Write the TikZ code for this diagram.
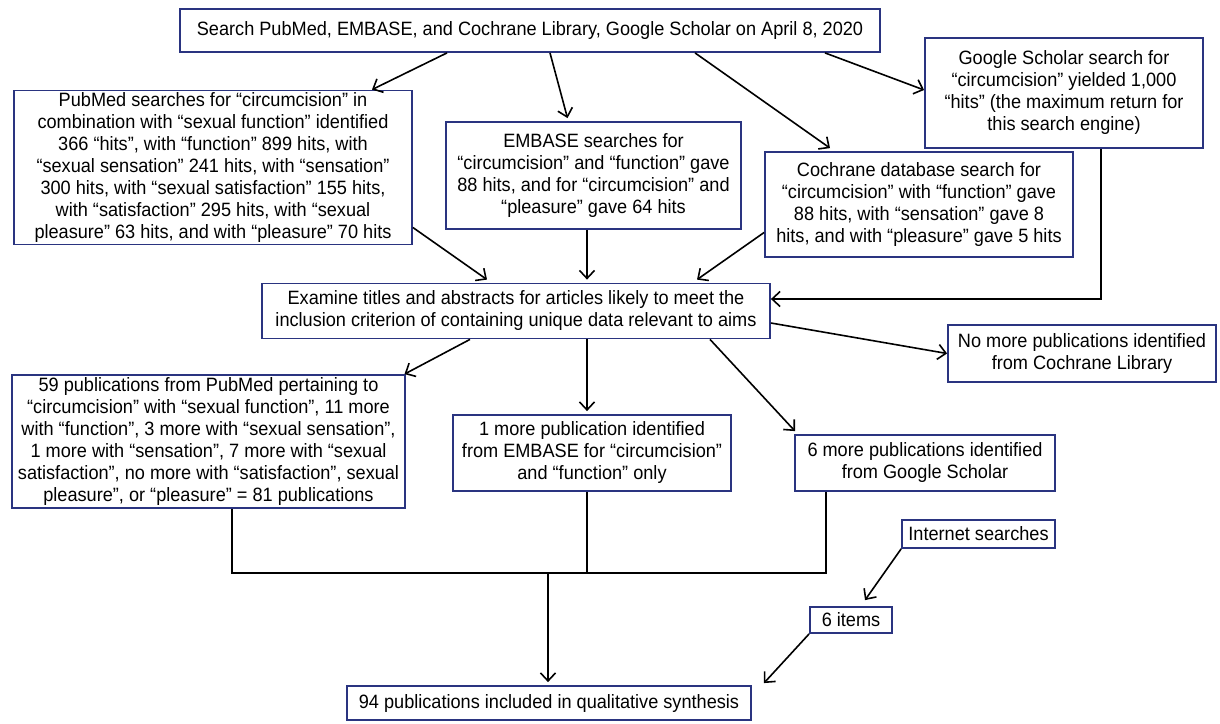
\documentclass[tikz,border=0pt]{standalone}
\usepackage{fontspec}
\setmainfont[FakeStretch=0.94]{Liberation Sans}
\usetikzlibrary{arrows.meta}
\definecolor{boxblue}{RGB}{42,52,128}
\begin{document}
\begin{tikzpicture}[x=1pt,y=-1pt,
  box/.style={draw=boxblue,line width=1.8pt,align=center,inner sep=2pt,
    font=\fontsize{19.3}{22}\selectfont},
  arr/.style={line width=1.6pt,-{Straight Barb[length=8pt,width=15pt,line width=1.6pt]}},
  ln/.style={line width=1.6pt}]
\useasboundingbox[fill=white] (0,0) rectangle (1220,723);
\node[box,minimum width=700pt,minimum height=43pt] (top) at (530,30.5)
  {Search PubMed, EMBASE, and Cochrane Library, Google Scholar on April 8, 2020};
\node[box,minimum width=398pt,minimum height=151pt] (pub) at (213,167.5)
  {PubMed searches for “circumcision” in\\combination with “sexual function” identified\\366 “hits”, with “function” 899 hits, with\\“sexual sensation” 241 hits, with “sensation”\\300 hits, with “sexual satisfaction” 155 hits,\\with “satisfaction” 295 hits, with “sexual\\pleasure” 63 hits, and with “pleasure” 70 hits};
\node[box,minimum width=295pt,minimum height=107pt] (emb) at (593.5,175.5)
  {EMBASE searches for\\“circumcision” and “function” gave\\88 hits, and for “circumcision” and\\“pleasure” gave 64 hits};
\node[box,minimum width=278pt,minimum height=110pt] (goo) at (1064,93)
  {Google Scholar search for\\“circumcision” yielded 1,000\\“hits” (the maximum return for\\this search engine)};
\node[box,minimum width=308pt,minimum height=105pt] (coc) at (919,204.5)
  {Cochrane database search for\\“circumcision” with “function” gave\\88 hits, with “sensation” gave 8\\hits, and with “pleasure” gave 5 hits};
\node[box,minimum width=508pt,minimum height=55pt] (exa) at (516,311)
  {Examine titles and abstracts for articles likely to meet the\\inclusion criterion of containing unique data relevant to aims};
\node[box,minimum width=268pt,minimum height=57pt] (nom) at (1082,353.5)
  {No more publications identified\\from Cochrane Library};
\node[box,minimum width=393pt,minimum height=133pt] (p59) at (208.5,441.5)
  {59 publications from PubMed pertaining to\\“circumcision” with “sexual function”, 11 more\\with “function”, 3 more with “sexual sensation”,\\1 more with “sensation”, 7 more with “sexual\\satisfaction”, no more with “satisfaction”, sexual\\pleasure”, or “pleasure” = 81 publications};
\node[box,minimum width=278pt,minimum height=76pt] (one) at (592,453)
  {1 more publication identified\\from EMBASE for “circumcision”\\and “function” only};
\node[box,minimum width=260pt,minimum height=56pt] (six) at (925,463)
  {6 more publications identified\\from Google Scholar};
\node[box,minimum width=153pt,minimum height=28pt] (int) at (978.5,534)
  {Internet searches};
\node[box,minimum width=82pt,minimum height=26pt] (itm) at (851,620)
  {6 items};
\node[box,minimum width=404pt,minimum height=34pt] (fin) at (549,703)
  {94 publications included in qualitative synthesis};
% arrows from top
\draw[arr] ([xshift=-83pt]top.south) -- ([xshift=159pt]pub.north);
\draw[arr] ([xshift=20pt]top.south) -- ([xshift=-26pt,yshift=3pt]emb.north);
\draw[arr] ([xshift=165pt]top.south) -- ([xshift=-89pt,yshift=3pt]coc.north);
\draw[arr] ([xshift=295pt]top.south) -- ([yshift=3pt]goo.west);
% into examine
\draw[arr] ([yshift=-60pt]pub.east) -- ([xshift=-29pt,yshift=3pt]exa.north);
\draw[arr] ([xshift=-6.5pt]emb.south) -- ([xshift=71pt,yshift=3pt]exa.north);
\draw[arr] ([yshift=-28pt]coc.west) -- ([xshift=181pt,yshift=3pt]exa.north);
\draw[arr] ([xshift=37pt]goo.south) |- ([yshift=12pt]exa.east);
% out of examine
\draw[arr] ([xshift=-46pt]exa.south) -- ([xshift=196pt]p59.north);
\draw[arr] ([xshift=71pt]exa.south) -- ([xshift=-5pt,yshift=3pt]one.north);
\draw[arr] ([xshift=194pt]exa.south) -- ([xshift=-130pt,yshift=3pt]six.north);
\draw[arr] ([yshift=-12pt]exa.east) -- (nom.west);
% merge
\coordinate (jl) at (232,573);
\coordinate (jr) at (826,573);
\coordinate (jm) at (548,573);
\draw[ln] ([xshift=23.5pt]p59.south) -- (jl) -- (jr) -- ([xshift=-99pt]six.south);
\draw[ln] ([xshift=-5pt]one.south) -- ([xshift=-5pt]one.south |- jl);
\draw[arr] (jm) -- ([yshift=3pt]fin.north -| jm);
\draw[arr] (int.south west) -- ([xshift=14pt,yshift=6pt]itm.north);
\draw[arr] (itm.south west) -- ([xshift=12pt,yshift=2pt]fin.north east);
\end{tikzpicture}
\end{document}
